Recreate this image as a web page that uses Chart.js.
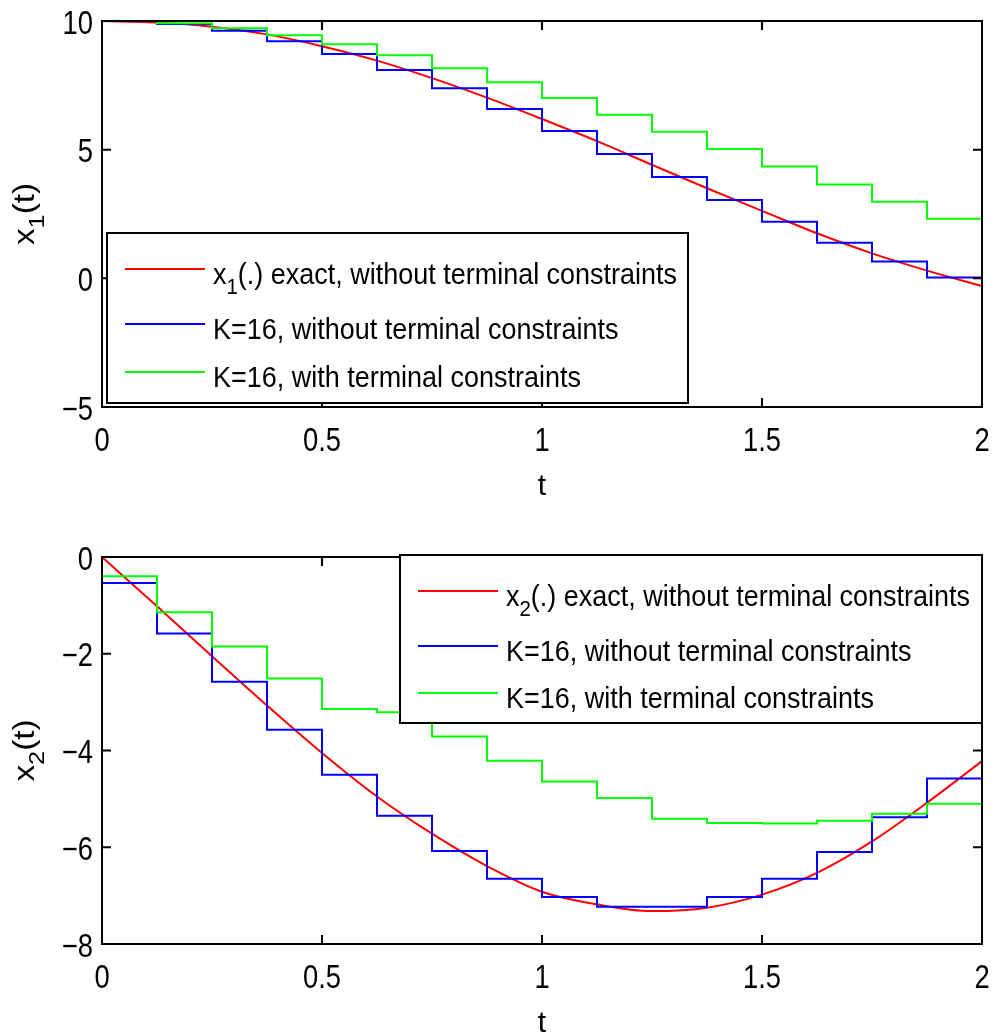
<!DOCTYPE html>
<html>
<head>
<meta charset="utf-8">
<script src="https://cdn.jsdelivr.net/npm/chart.js@4.4.0/dist/chart.umd.min.js"></script>
<style>
  html, body { margin: 0; padding: 0; background: #fff; }
  #wrap { position: relative; width: 995px; height: 1034px; }
  .panel { position: absolute; left: 0; width: 995px; height: 517px; }
  #top { top: 0; }
  #bottom { top: 517px; }
</style>
</head>
<body>
<div id="wrap">
  <div class="panel" id="top"><canvas id="chartX1"></canvas></div>
  <div class="panel" id="bottom"><canvas id="chartX2"></canvas></div>
</div>
<script>
// sample times, K=16 intervals on [0, 2]
const tGrid = [0, 0.125, 0.25, 0.375, 0.5, 0.625, 0.75, 0.875, 1, 1.125, 1.25, 1.375, 1.5, 1.625, 1.75, 1.875, 2];

// exact trajectories, read at the sample times
const x1Exact = [10, 9.94, 9.78, 9.48, 9.02, 8.46, 7.78, 7.02, 6.19, 5.33, 4.41, 3.50, 2.62, 1.75, 0.97, 0.30, -0.30];
const x2Exact = [0, -1.02, -2.05, -3.07, -4.05, -4.95, -5.72, -6.39, -6.92, -7.18, -7.32, -7.25, -6.98, -6.53, -5.88, -5.08, -4.22];

// piecewise constant K=16 results: initial state, then one value per interval
const x1Free = [10, 10, 9.88, 9.62, 9.21, 8.72, 8.10, 7.39, 6.58, 5.73, 4.83, 3.94, 3.04, 2.20, 1.38, 0.65, 0.03];
const x1Term = [10, 10, 9.91, 9.72, 9.45, 9.10, 8.67, 8.16, 7.62, 7.01, 6.36, 5.70, 5.03, 4.35, 3.65, 2.98, 2.32];
const x2Free = [0, -0.54, -1.58, -2.58, -3.57, -4.50, -5.35, -6.08, -6.65, -7.03, -7.23, -7.23, -7.03, -6.65, -6.10, -5.38, -4.58];
const x2Term = [0, -0.40, -1.14, -1.85, -2.51, -3.14, -3.21, -3.71, -4.21, -4.64, -4.98, -5.41, -5.50, -5.51, -5.45, -5.31, -5.10];

const xTicks = [0, 0.5, 1, 1.5, 2];
const x1Ticks = [-5, 0, 5, 10];
const x2Ticks = [-8, -6, -4, -2, 0];

const legendTexts = [
    ['x_1(.) exact, without terminal constraints', 'K=16, without terminal constraints', 'K=16, with terminal constraints'],
    ['x_2(.) exact, without terminal constraints', 'K=16, without terminal constraints', 'K=16, with terminal constraints']
];

const SANS = '"Liberation Sans", Arial, sans-serif';

function toPoints(values) {
    return values.map((v, i) => ({ x: tGrid[i], y: v }));
}

function minusSign(v) {
    return v < 0 ? '\u2212' + Math.abs(v) : String(v);
}

// draws text where '_' makes the next character a subscript
function drawRich(ctx, text, x, y, size) {
    let cx = x;
    for (let i = 0; i < text.length; i++) {
        if (text[i] === '_') {
            i++;
            ctx.font = Math.round(size * 0.76) + 'px ' + SANS;
            ctx.fillText(text[i], cx, y + size * 0.34);
            cx += ctx.measureText(text[i]).width;
            continue;
        }
        let j = text.indexOf('_', i);
        if (j < 0) j = text.length;
        const part = text.slice(i, j);
        ctx.font = size + 'px ' + SANS;
        ctx.fillText(part, cx, y);
        cx += ctx.measureText(part).width;
        i = j - 1;
    }
    return cx - x;
}

function richWidth(ctx, text, size) {
    ctx.save();
    ctx.globalAlpha = 0;
    const w = drawRich(ctx, text, 0, 0, size);
    ctx.restore();
    return w;
}

// tick labels in the reference are tall and narrow
function drawNarrow(ctx, text, x, y, align) {
    ctx.save();
    ctx.translate(x, y);
    ctx.scale(0.83, 1);
    ctx.textAlign = align;
    ctx.font = '33px ' + SANS;
    ctx.fillText(text, 0, 0);
    ctx.restore();
}

// MATLAB style box, inward ticks, labels, axis titles and legend
const matlabAxes = {
    id: 'matlabAxes',
    afterDatasetsDraw(chart, args, opts) {
        const ctx = chart.ctx;
        const a = chart.chartArea;
        const xs = chart.scales.x;
        const ys = chart.scales.y;
        const tl = 9;
        ctx.save();
        ctx.strokeStyle = '#000';
        ctx.lineWidth = 2;
        ctx.beginPath();
        xs.ticks.forEach(tk => {
            const px = xs.getPixelForValue(tk.value);
            ctx.moveTo(px, a.bottom); ctx.lineTo(px, a.bottom - tl);
            ctx.moveTo(px, a.top); ctx.lineTo(px, a.top + tl);
        });
        ys.ticks.forEach(tk => {
            const py = ys.getPixelForValue(tk.value);
            ctx.moveTo(a.left, py); ctx.lineTo(a.left + tl, py);
            ctx.moveTo(a.right, py); ctx.lineTo(a.right - tl, py);
        });
        ctx.stroke();
        ctx.strokeRect(a.left, a.top, a.right - a.left, a.bottom - a.top);

        // tick labels
        ctx.fillStyle = '#000';
        ctx.textBaseline = 'alphabetic';
        xs.ticks.forEach(tk => {
            drawNarrow(ctx, String(tk.value), xs.getPixelForValue(tk.value), a.bottom + 44, 'center');
        });
        ys.ticks.forEach(tk => {
            drawNarrow(ctx, minusSign(tk.value), a.left - 9, ys.getPixelForValue(tk.value) + 12.5, 'right');
        });

        // axis titles
        ctx.font = '30px ' + SANS;
        ctx.textAlign = 'center';
        ctx.fillText('t', (a.left + a.right) / 2, a.bottom + 88);
        ctx.textAlign = 'left';
        const yw = richWidth(ctx, opts.yTitle, 29);
        ctx.save();
        ctx.translate(34, (a.top + a.bottom) / 2);
        ctx.rotate(-Math.PI / 2);
        ctx.scale(1.15, 1);
        drawRich(ctx, opts.yTitle, -yw / 2, 0, 29);
        ctx.restore();

        // legend
        const b = opts.box;
        ctx.fillStyle = '#fff';
        ctx.fillRect(b.x, b.y, b.w, b.h);
        ctx.strokeRect(b.x, b.y, b.w, b.h);
        chart.data.datasets.forEach((ds, i) => {
            const ry = b.y + opts.rows[i];
            ctx.strokeStyle = ds.borderColor;
            ctx.lineWidth = 2;
            ctx.beginPath();
            ctx.moveTo(b.x + 18, ry);
            ctx.lineTo(b.x + 98, ry);
            ctx.stroke();
            ctx.fillStyle = '#000';
            ctx.save();
            ctx.translate(b.x + 106, ry + 15);
            ctx.scale(0.93, 1);
            drawRich(ctx, opts.texts[i], 0, 0, 29);
            ctx.restore();
        });
        ctx.restore();
    }
};

function noPadding(scale) {
    scale.paddingTop = 0;
    scale.paddingBottom = 0;
    scale.paddingLeft = 0;
    scale.paddingRight = 0;
}

function makeChart(canvasId, exact, free, term, yTicks, texts, yTitle, padTop, xAxisHeight, box, rows) {
    return new Chart(document.getElementById(canvasId), {
        type: 'line',
        data: {
            datasets: [
                { label: texts[0], data: toPoints(exact), borderColor: '#ff0000', borderWidth: 2,
                  cubicInterpolationMode: 'monotone', order: 3 },
                { label: texts[1], data: toPoints(free), borderColor: '#0000ff', borderWidth: 2,
                  stepped: 'after', order: 2 },
                { label: texts[2], data: toPoints(term), borderColor: '#00ff00', borderWidth: 2,
                  stepped: 'after', order: 1 }
            ]
        },
        options: {
            responsive: true,
            maintainAspectRatio: false,
            animation: false,
            events: [],
            layout: { padding: { left: 0, top: padTop, right: 13, bottom: 0 } },
            elements: { point: { radius: 0 } },
            plugins: {
                legend: { display: false },
                tooltip: { enabled: false },
                matlabAxes: { box: box, rows: rows, texts: texts, yTitle: yTitle }
            },
            scales: {
                x: {
                    type: 'linear',
                    min: xTicks[0],
                    max: xTicks[xTicks.length - 1],
                    afterFit: scale => { scale.height = xAxisHeight; noPadding(scale); },
                    afterBuildTicks: scale => { scale.ticks = xTicks.map(v => ({ value: v })); },
                    grid: { display: false, drawTicks: false },
                    border: { display: false },
                    ticks: { display: false }
                },
                y: {
                    type: 'linear',
                    min: yTicks[0],
                    max: yTicks[yTicks.length - 1],
                    afterFit: scale => { scale.width = 102; noPadding(scale); },
                    afterBuildTicks: scale => { scale.ticks = yTicks.map(v => ({ value: v })); },
                    grid: { display: false, drawTicks: false },
                    border: { display: false },
                    ticks: { display: false }
                }
            }
        },
        plugins: [matlabAxes]
    });
}

let chartX1 = makeChart('chartX1', x1Exact, x1Free, x1Term, x1Ticks, legendTexts[0], 'x_1(t)',
    21, 110, { x: 107, y: 233, w: 581, h: 170 }, [36, 91, 139]);
let chartX2 = makeChart('chartX2', x2Exact, x2Free, x2Term, x2Ticks, legendTexts[1], 'x_2(t)',
    40, 90, { x: 400, y: 38, w: 582, h: 168 }, [36, 91, 138]);
</script>
</body>
</html>
